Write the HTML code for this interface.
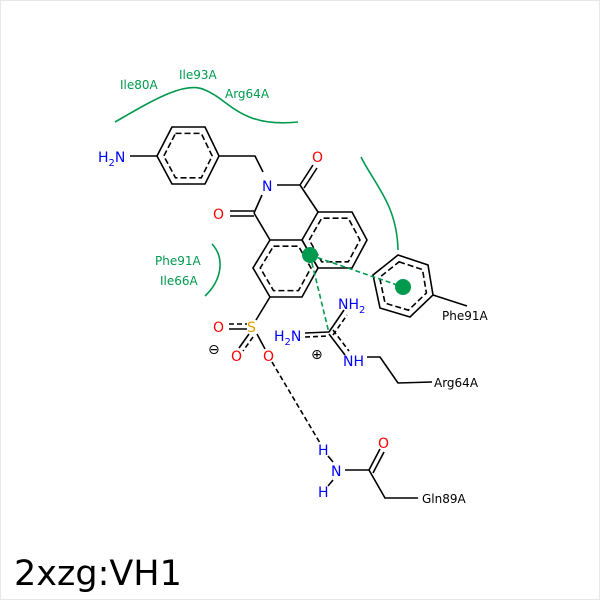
<!DOCTYPE html>
<html><head><meta charset="utf-8"><style>
html,body{margin:0;padding:0;background:#fff;}
svg{display:block;}
text{font-family:"DejaVu Sans","Liberation Sans",sans-serif;}
</style></head><body>
<svg width="600" height="600" viewBox="0 0 600 600" xmlns="http://www.w3.org/2000/svg">
<rect x="0.5" y="0.5" width="599" height="599" fill="#fff" stroke="#e8e8e8"/>
<g fill="none" stroke="#000" stroke-width="1.6">
<!-- aminobenzyl ring -->
<polygon points="172,127 205,127 219,156 205,184 172,184 157,156"/>
<polygon points="172,127 205,127 219,156 205,184 172,184 157,156" transform="translate(188,156) scale(0.78) translate(-188,-156)" stroke-dasharray="6,3" vector-effect="non-scaling-stroke"/>
<line x1="130" y1="156" x2="157" y2="156"/>
<polyline points="219,156 255,156 263,172"/>
<line x1="277" y1="185" x2="300" y2="185"/>
<line x1="300" y1="185" x2="318" y2="212"/>
<line x1="300" y1="185" x2="313" y2="165"/>
<line x1="304" y1="188" x2="317" y2="168"/>
<line x1="262" y1="195" x2="254" y2="213"/>
<line x1="254" y1="213" x2="270" y2="240"/>
<line x1="230" y1="211" x2="254" y2="211"/>
<line x1="230" y1="216" x2="254" y2="216"/>
<!-- naphthalene -->
<polygon points="270,240 302,240 318,268 302,297 270,297 253,268"/>
<polygon points="302,240 318,212 352,212 367,240 352,268 318,268"/>
<polygon points="270,240 302,240 318,268 302,297 270,297 253,268" transform="translate(286,268) scale(0.78) translate(-286,-268)" stroke-dasharray="6,3" vector-effect="non-scaling-stroke"/>
<polygon points="302,240 318,212 352,212 367,240 352,268 318,268" transform="translate(335,240) scale(0.78) translate(-335,-240)" stroke-dasharray="6,3" vector-effect="non-scaling-stroke"/>
<line x1="270" y1="297" x2="256" y2="320"/>
<!-- sulfonate -->
<line x1="229" y1="324" x2="247" y2="324" stroke-dasharray="5,3"/>
<line x1="229" y1="329" x2="247" y2="329"/>
<line x1="249" y1="334" x2="239" y2="348"/>
<line x1="253" y1="337" x2="243" y2="351" stroke-dasharray="5,3"/>
<line x1="257" y1="334" x2="265" y2="349"/>
<!-- guanidine -->
<line x1="305" y1="333" x2="329" y2="332"/>
<line x1="305" y1="337" x2="329" y2="336" stroke-dasharray="5,3"/>
<line x1="329" y1="332" x2="344" y2="310"/>
<line x1="333" y1="335" x2="347" y2="315" stroke-dasharray="5,3"/>
<line x1="329" y1="334" x2="345" y2="355"/>
<line x1="333" y1="330" x2="349" y2="351" stroke-dasharray="5,3"/>
<polyline points="367,357 380,357 398,383 432,382"/>
<!-- phe ring -->
<polygon points="398,255 428,265 433,295 410,317 380,308 373,275"/>
<polygon points="398,255 428,265 433,295 410,317 380,308 373,275" transform="translate(403,286) scale(0.78) translate(-403,-286)" stroke-dasharray="6,3" vector-effect="non-scaling-stroke"/>
<line x1="433" y1="295" x2="467" y2="306"/>
<!-- gln -->
<line x1="272" y1="362" x2="320" y2="443" stroke-dasharray="5,3"/>
<line x1="328" y1="456" x2="333" y2="462"/>
<line x1="328" y1="486" x2="333" y2="480"/>
<line x1="345" y1="470" x2="369" y2="470"/>
<line x1="369" y1="470" x2="380" y2="449"/>
<line x1="373" y1="473" x2="384" y2="452"/>
<polyline points="369,470 385,498 418,498"/>
</g>
<!-- green -->
<g fill="none" stroke="#009a4e" stroke-width="1.6">
<path d="M115,122 C150,102 185,80 205,90 C230,100 240,128 298,122"/>
<path d="M361,157 C375,185 397,205 398,250"/>
<path d="M212,244 C225,258 222,280 205,296"/>
<line x1="310" y1="255" x2="403" y2="287" stroke-dasharray="5,3"/>
<line x1="310" y1="255" x2="329" y2="333" stroke-dasharray="5,3"/>
</g>
<circle cx="310" cy="255" r="8" fill="#009a4e"/>
<circle cx="403" cy="287" r="8" fill="#009a4e"/>
<g font-size="14">
<text x="98" y="162" fill="#0000ff">H<tspan font-size="10" dy="4">2</tspan><tspan dy="-4">N</tspan></text>
<text x="262" y="191" fill="#0000ff">N</text>
<text x="312" y="162" fill="#ff0000">O</text>
<text x="213" y="219" fill="#ff0000">O</text>
<text x="247" y="332" fill="#e0a000">S</text>
<text x="213" y="332" fill="#ff0000">O</text>
<text x="231" y="361" fill="#ff0000">O</text>
<text x="263" y="361" fill="#ff0000">O</text>
<text x="208" y="354" fill="#000">⊖</text>
<text x="338" y="309" fill="#0000ff">NH<tspan font-size="10" dy="4">2</tspan></text>
<text x="274" y="341" fill="#0000ff">H<tspan font-size="10" dy="4">2</tspan><tspan dy="-4">N</tspan></text>
<text x="343" y="366" fill="#0000ff">NH</text>
<text x="311" y="359" fill="#000">⊕</text>
<text x="318" y="455" fill="#0000ff">H</text>
<text x="331" y="476" fill="#0000ff">N</text>
<text x="318" y="497" fill="#0000ff">H</text>
<text x="378" y="448" fill="#ff0000">O</text>
</g>
<g font-size="12">
<text x="434" y="387" fill="#000">Arg64A</text>
<text x="422" y="503" fill="#000">Gln89A</text>
<text x="442" y="320" fill="#000">Phe91A</text>
<text x="120" y="89" fill="#009a4e">Ile80A</text>
<text x="179" y="79" fill="#009a4e">Ile93A</text>
<text x="225" y="98" fill="#009a4e">Arg64A</text>
<text x="155" y="265" fill="#009a4e">Phe91A</text>
<text x="160" y="285" fill="#009a4e">Ile66A</text>
</g>
<text x="14" y="585" font-size="35" fill="#000">2xzg:VH1</text>
</svg>
</body></html>
